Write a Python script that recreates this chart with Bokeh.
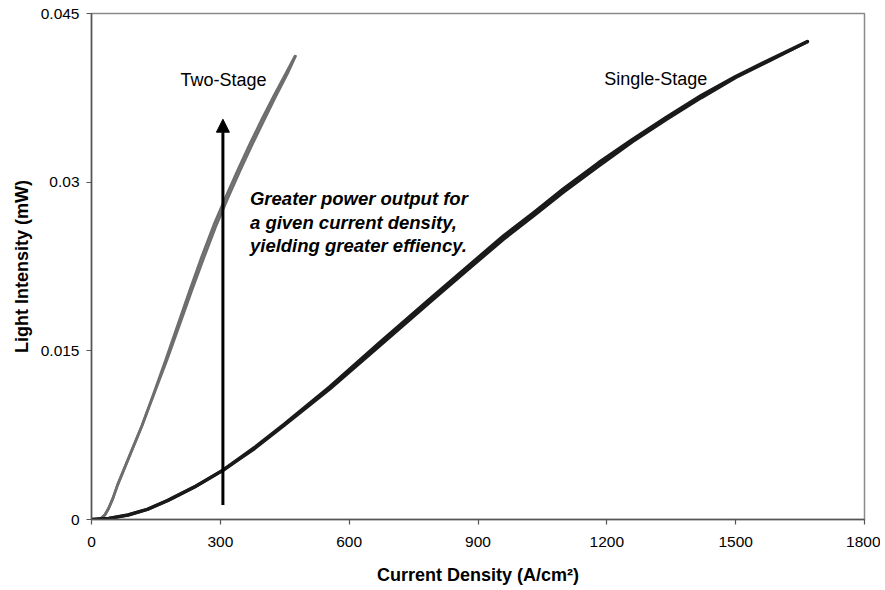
from bokeh.plotting import figure
from bokeh.models import ColumnDataSource, Range1d, FixedTicker, NumeralTickFormatter, Arrow, NormalHead
from bokeh.core.properties import value
from bokeh.embed import file_html
from bokeh.resources import INLINE

# ---- data ----
two_stage_x = [12, 22, 31, 40, 50, 61, 89, 117, 145, 173, 201, 229, 257, 285, 313, 341, 369, 397, 425,
               453, 474]
two_stage_y = [0, 0.0001, 0.0004, 0.0010, 0.0019, 0.0031, 0.0057, 0.0083, 0.0112, 0.0142, 0.0173, 0.0204,
               0.0234, 0.0262, 0.0287, 0.0311, 0.0334, 0.0356, 0.0377, 0.0397, 0.0412]
two_stage_ret_x = [12, 22, 31, 40, 50, 61, 89, 117, 146, 176, 205, 234, 263, 291, 319, 347, 375, 403, 430,
                   457, 475]
two_stage_ret_y = [0, 0.0001, 0.0004, 0.0010, 0.0019, 0.0031, 0.0057, 0.0083, 0.0112, 0.0142, 0.0173, 0.0204,
                   0.0234, 0.0262, 0.0287, 0.0311, 0.0334, 0.0356, 0.0377, 0.0397, 0.0412]

single_x = [0, 40, 85, 130, 178, 240, 307, 380, 450, 555, 670, 788, 870, 959, 1030, 1099, 1180, 1260,
            1340, 1420, 1500, 1580, 1667]
single_y = [0, 0.0001, 0.0004, 0.0009, 0.0017, 0.0029, 0.0044, 0.0064, 0.0085, 0.0118, 0.0157, 0.0196,
            0.0223, 0.0252, 0.0273, 0.0294, 0.0317, 0.0338, 0.0358, 0.0377, 0.0394, 0.0409, 0.0425]
single_ret_x = [0, 40, 85, 130, 178, 240, 307, 380, 450, 555, 670, 788, 870, 959, 1030, 1099, 1180, 1260,
                1340, 1420, 1500, 1580, 1667]
single_ret_y = [0, 0.0001, 0.0004, 0.0009, 0.0017, 0.0029, 0.0044, 0.0063, 0.0084, 0.0116, 0.0154, 0.0193,
                0.0220, 0.0249, 0.0270, 0.0291, 0.0314, 0.0336, 0.0356, 0.0375, 0.0393, 0.0408, 0.0425]

x_ticks = [0, 300, 600, 900, 1200, 1500, 1800]
y_ticks = [0, 0.015, 0.03, 0.045]

label_two = "Two-Stage"
label_two_pos = (207, 0.0391)
label_single = "Single-Stage"
label_single_pos = (1194, 0.0392)
note_lines = ["Greater power output for", "a given current density,", "yielding greater effiency."]
note_x = 369
note_y = [0.02852, 0.02643, 0.02436]
arrow_x = 306
arrow_y0 = 0.0013
arrow_y1 = 0.0356

FONT = "Liberation Sans"

p = figure(width=880, height=589, output_backend="svg", toolbar_location=None,
           x_range=Range1d(0, 1800), y_range=Range1d(0, 0.045),
           min_border_left=91, min_border_right=16, min_border_top=13, min_border_bottom=70)
p.background_fill_color = "white"
p.border_fill_color = "white"
p.outline_line_color = "#8a8a8a"
p.outline_line_width = 1.5
p.xgrid.visible = False
p.ygrid.visible = False

for ax in (p.xaxis[0], p.yaxis[0]):
    ax.axis_line_color = "#555555"
    ax.axis_line_width = 1.5
    ax.major_tick_line_color = "#555555"
    ax.major_tick_line_width = 1.2
    ax.major_tick_out = 5
    ax.major_tick_in = 0
    ax.minor_tick_line_color = None
    ax.major_label_text_font = FONT
    ax.major_label_text_font_size = "15.5px"
    ax.major_label_text_color = "black"
    ax.axis_label_text_font = FONT
    ax.axis_label_text_font_size = "18px"
    ax.axis_label_text_font_style = "bold"
    ax.axis_label_text_color = "black"

p.xaxis.ticker = FixedTicker(ticks=x_ticks)
p.yaxis.ticker = FixedTicker(ticks=y_ticks)
p.yaxis.formatter = NumeralTickFormatter(format="0.[000]")
p.xaxis.axis_label = "Current Density (A/cm\u00b2)"
p.yaxis.axis_label = "Light Intensity (mW)"
p.xaxis.major_label_standoff = 12
p.yaxis.major_label_standoff = 7
p.xaxis.axis_label_standoff = 15
p.yaxis.axis_label_standoff = 6

# curves
p.line(x="x", y="y", source=ColumnDataSource(dict(x=two_stage_x, y=two_stage_y)),
       line_color="#6e6e6e", line_width=2.8, line_join="round", line_cap="round")
p.line(x="x", y="y", source=ColumnDataSource(dict(x=two_stage_ret_x, y=two_stage_ret_y)),
       line_color="#6e6e6e", line_width=2.6, line_join="round", line_cap="round")
p.line(x="x", y="y", source=ColumnDataSource(dict(x=single_x, y=single_y)),
       line_color="#1a1a1a", line_width=3.5, line_join="round", line_cap="round")
p.line(x="x", y="y", source=ColumnDataSource(dict(x=single_ret_x, y=single_ret_y)),
       line_color="#1a1a1a", line_width=3, line_join="round", line_cap="round")

# arrow
p.add_layout(Arrow(end=NormalHead(size=13, fill_color="black", line_color="black"),
                   x_start=arrow_x, y_start=arrow_y0, x_end=arrow_x, y_end=arrow_y1,
                   line_color="black", line_width=3))

# labels
p.text(x=[label_two_pos[0]], y=[label_two_pos[1]], text=[label_two], text_font=value(FONT),
       text_font_size="18px", text_color="black", text_baseline="alphabetic", text_align="left")
p.text(x=[label_single_pos[0]], y=[label_single_pos[1]], text=[label_single], text_font=value(FONT),
       text_font_size="18px", text_color="black", text_baseline="alphabetic", text_align="left")
p.text(x=[note_x] * len(note_lines), y=note_y, text=note_lines, text_font=value(FONT),
       text_font_size="18.5px", text_font_style="bold italic", text_color="black",
       text_baseline="alphabetic", text_align="left")

open("out.html", "w").write(file_html(p, INLINE))
